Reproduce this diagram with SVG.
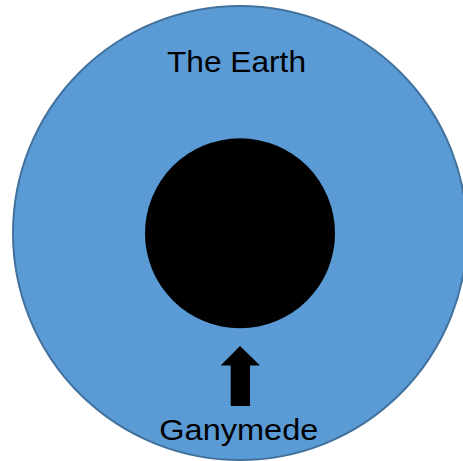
<svg xmlns="http://www.w3.org/2000/svg" width="463" height="461" viewBox="0 0 463 461">
  <style>
    .lbl { font-family: "Liberation Sans", Arial, sans-serif; font-size: 30px; fill: #000; text-anchor: middle; }
  </style>
  <rect width="463" height="461" fill="#ffffff"/>
  <g id="earth">
    <circle cx="240" cy="233" r="227" fill="#5B9BD5" stroke="#41719C" stroke-width="2"/>
    <text class="lbl" x="236.5" y="71.5" textLength="139" lengthAdjust="spacingAndGlyphs">The Earth</text>
  </g>
  <g id="core">
    <circle cx="240" cy="233.3" r="95" fill="#000000"/>
  </g>
  <g id="connectors">
    <polygon points="240,346 260,365.5 250,365.5 250,406 230.7,406 230.7,365.5 220.7,365.5" fill="#000000"/>
  </g>
  <g id="ganymede">
    <text class="lbl" x="238.8" y="440" textLength="159" lengthAdjust="spacingAndGlyphs">Ganymede</text>
  </g>
</svg>
